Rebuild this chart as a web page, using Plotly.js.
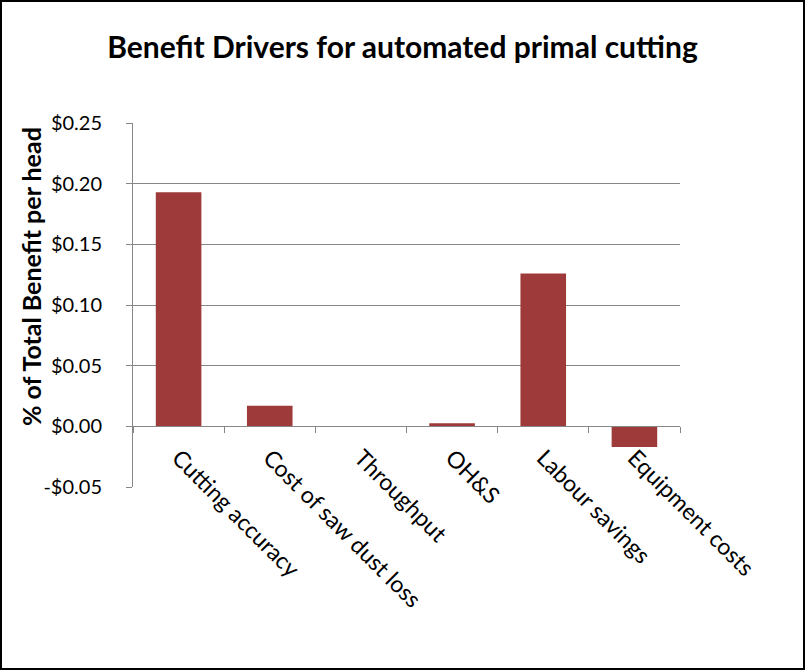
<!DOCTYPE html>
<html>
<head>
<meta charset="utf-8">
<script src="https://cdn.plot.ly/plotly-3.0.1.min.js"></script>
<style>
  html, body { margin: 0; padding: 0; background: #fff; }
  #wrap { width: 805px; height: 670px; box-sizing: border-box; border: 2px solid #000; overflow: hidden; }
  #chart { width: 801px; height: 666px; }
</style>
</head>
<body>
<div id="wrap"><div id="chart"></div></div>
<script>
const categories = ["Cutting accuracy", "Cost of saw dust loss", "Throughput", "OH&S", "Labour savings", "Equipment costs"];
const benefitPerHead = [0.193, 0.017, 0.0, 0.0025, 0.126, -0.017];
const yTickValues = [-0.05, 0, 0.05, 0.10, 0.15, 0.20, 0.25];
const yTickLabels = ["-$0.05", "$0.00", "$0.05", "$0.10", "$0.15", "$0.20", "$0.25"];

const FONT = "Lato, 'Open Sans', sans-serif";
const GRID = "#878787";

const data = [{
  type: "bar",
  x: categories,
  y: benefitPerHead,
  width: 0.5,
  marker: { color: "#9E3B3A", line: { color: "#7A2B2A", width: 0 } },
  hoverinfo: "x+y"
}];

const layout = {
  width: 801, height: 666,
  margin: { l: 131, r: 123, t: 121, b: 181 },
  paper_bgcolor: "#fff", plot_bgcolor: "#fff",
  font: { family: FONT, color: "#000", size: 21 },
  showlegend: false,
  title: {
    text: "<b>Benefit Drivers for automated primal cutting</b>",
    font: { family: FONT, size: 30, color: "#000" },
    x: 0.5, xanchor: "center", xref: "container",
    y: 1 - 45 / 666, yanchor: "middle", yref: "container"
  },
  xaxis: {
    type: "category",
    anchor: "free", position: 1 / 6,
    showline: true, linecolor: GRID, linewidth: 1,
    ticks: "outside", tickson: "boundaries", ticklen: 6, tickcolor: GRID, tickwidth: 1,
    tickangle: 45,
    ticklabelstandoff: 8,
    tickfont: { family: FONT, size: 23, color: "#000" },
    showgrid: false, zeroline: false,
    fixedrange: true
  },
  yaxis: {
    range: [-0.05, 0.25],
    tickvals: yTickValues, ticktext: yTickLabels,
    showline: true, linecolor: GRID, linewidth: 1,
    ticks: "outside", ticklen: 6, tickcolor: GRID,
    ticklabelstandoff: 20,
    showgrid: true, gridcolor: GRID, gridwidth: 1,
    zeroline: false,
    tickfont: { family: FONT, size: 20, color: "#000" },
    fixedrange: true
  },
  annotations: [{
    text: "<b>% of Total Benefit per head</b>",
    xref: "paper", yref: "paper",
    x: 0, y: (487 - 277) / 364,
    xanchor: "center", yanchor: "middle",
    xshift: -102,
    textangle: -90,
    showarrow: false,
    font: { family: FONT, size: 25, color: "#000" }
  }],
  bargap: 0.5
};

Plotly.newPlot("chart", data, layout, { displayModeBar: false, staticPlot: true });
</script>
</body>
</html>
